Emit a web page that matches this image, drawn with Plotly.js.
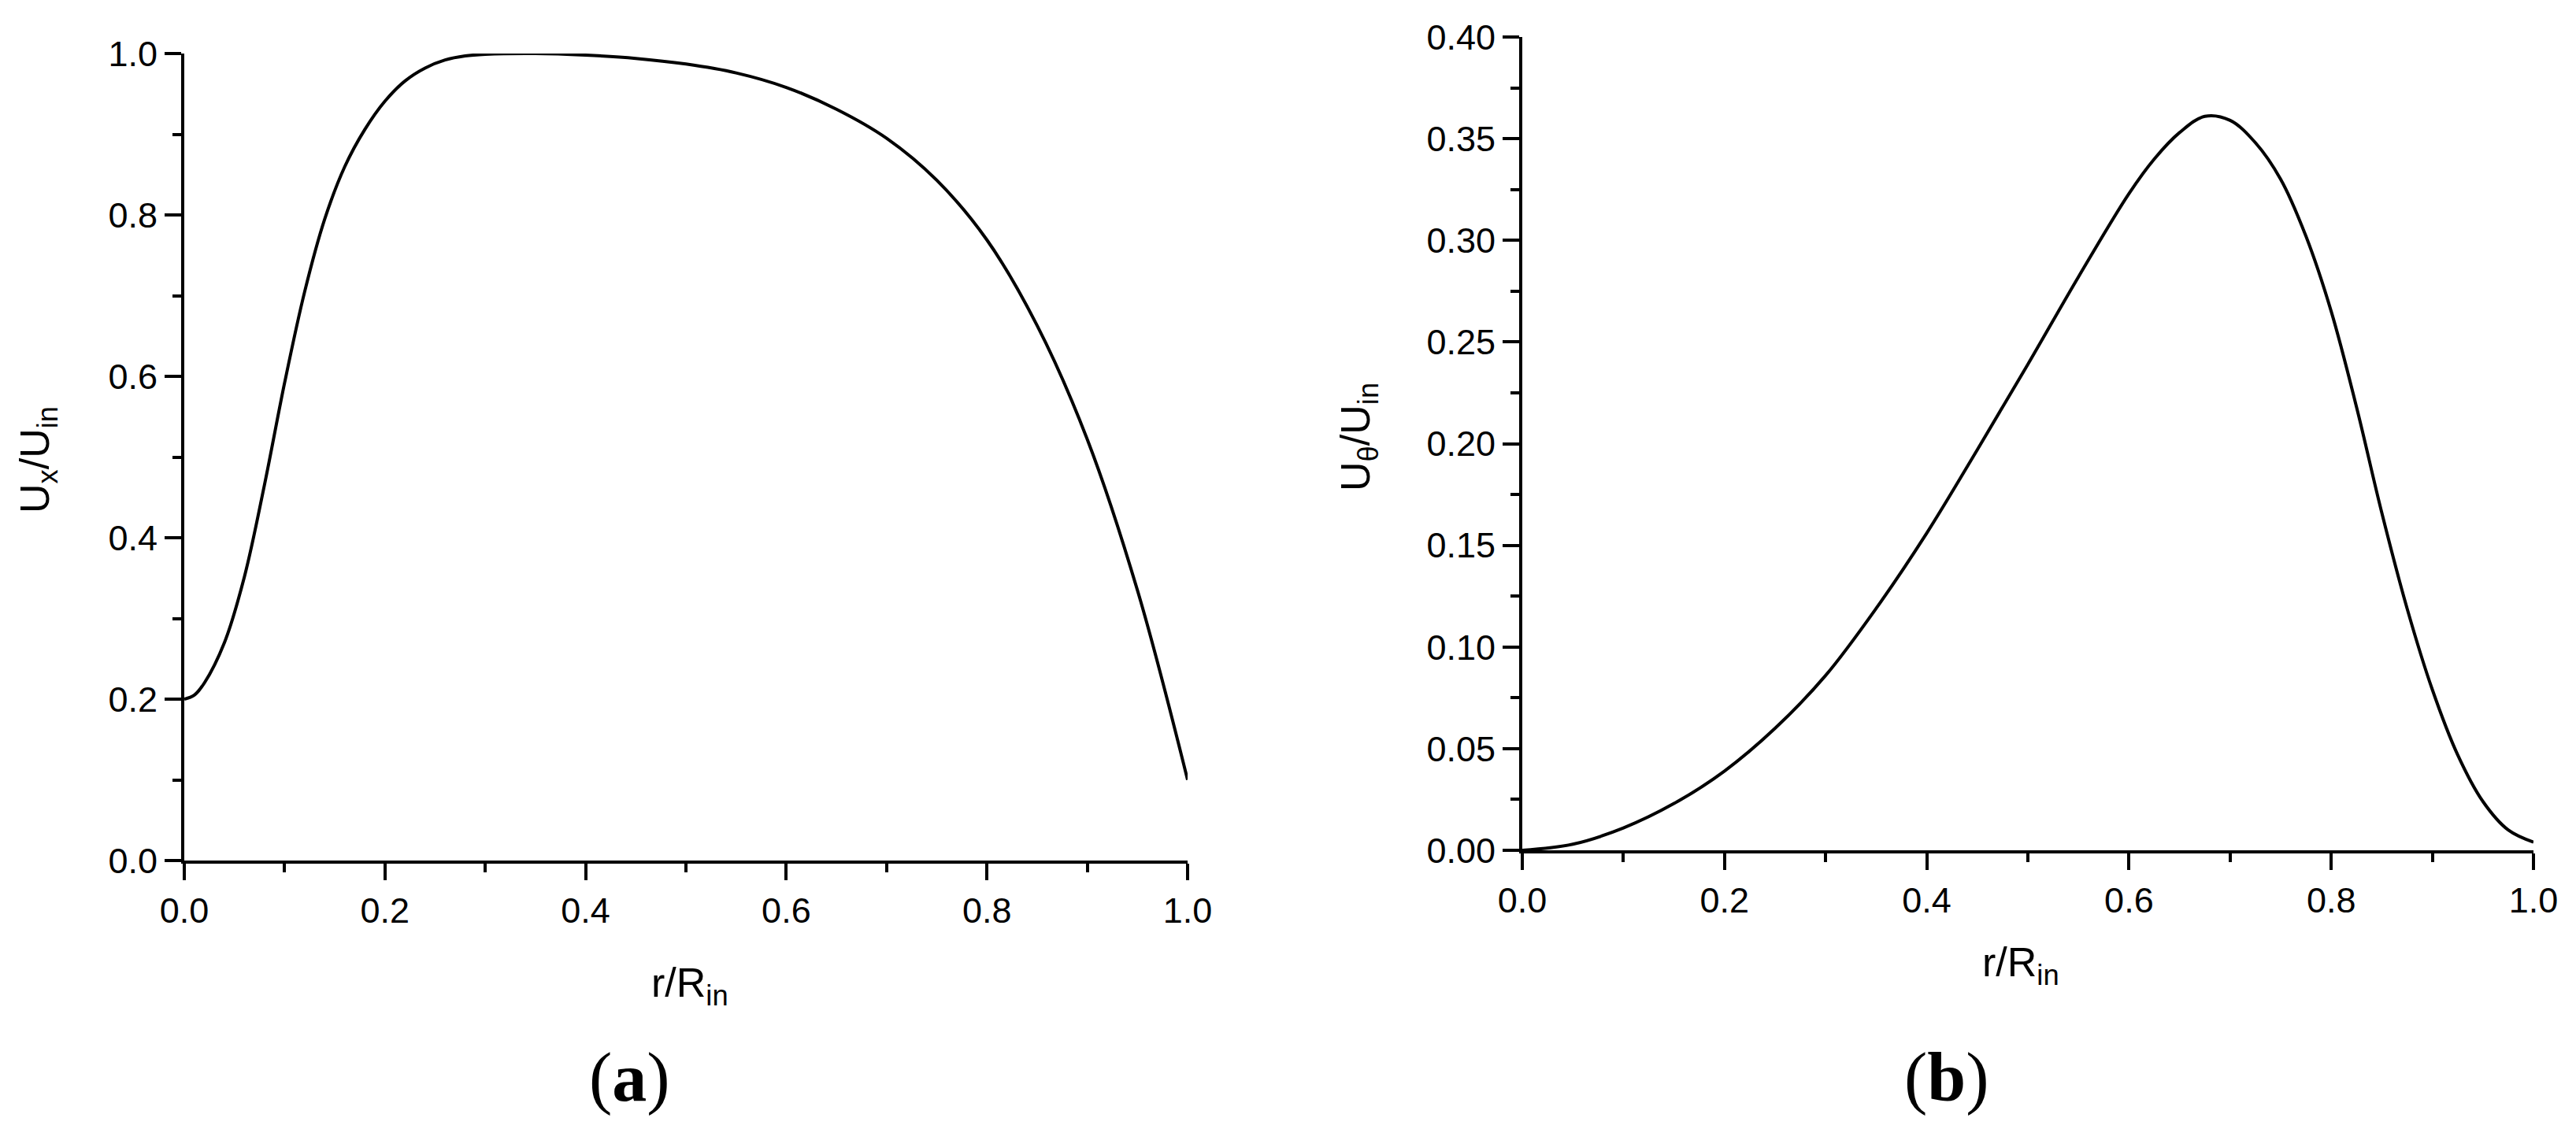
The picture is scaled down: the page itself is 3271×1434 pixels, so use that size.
<!DOCTYPE html>
<html>
<head>
<meta charset="utf-8">
<script src="https://cdn.plot.ly/plotly-3.0.1.min.js"></script>
<style>html,body{margin:0;padding:0;background:#fff;}#chart{width:3271px;height:1434px;}</style>
</head>
<body>
<div id="chart"></div>
<script>
// Panel (a): axial velocity profile
const rA = [0, 0.01, 0.02, 0.04, 0.06, 0.08, 0.10, 0.12, 0.14, 0.16, 0.18, 0.20, 0.22, 0.24, 0.26, 0.28, 0.30, 0.35, 0.40, 0.45, 0.50, 0.55, 0.60, 0.65, 0.70, 0.75, 0.80, 0.85, 0.90, 0.95, 1.00];
const uxA = [0.200, 0.205, 0.220, 0.270, 0.352, 0.466, 0.592, 0.705, 0.795, 0.860, 0.906, 0.941, 0.966, 0.982, 0.992, 0.997, 0.999, 1.000, 0.998, 0.994, 0.987, 0.976, 0.958, 0.931, 0.895, 0.843, 0.769, 0.663, 0.522, 0.335, 0.100];

// Panel (b): swirl velocity profile
const rB = [0, 0.05, 0.10, 0.15, 0.20, 0.25, 0.30, 0.35, 0.40, 0.45, 0.50, 0.55, 0.60, 0.625, 0.65, 0.675, 0.70, 0.725, 0.75, 0.775, 0.80, 0.825, 0.85, 0.875, 0.90, 0.925, 0.95, 0.975, 1.00];
const uthB = [0.000, 0.003, 0.011, 0.023, 0.039, 0.060, 0.086, 0.119, 0.156, 0.197, 0.239, 0.282, 0.323, 0.340, 0.353, 0.361, 0.359, 0.348, 0.330, 0.302, 0.265, 0.218, 0.166, 0.119, 0.079, 0.047, 0.024, 0.010, 0.004];

const xTicks = [0, 0.2, 0.4, 0.6, 0.8, 1.0];
const yTicksA = [0, 0.2, 0.4, 0.6, 0.8, 1.0];
const yTicksB = [0, 0.05, 0.10, 0.15, 0.20, 0.25, 0.30, 0.35, 0.40];

const tickFont = {family: 'Liberation Sans, Arial, sans-serif', size: 45, color: '#000'};
const titleFont = {family: 'Liberation Sans, Arial, sans-serif', size: 52, color: '#000'};
const panelFont = {family: 'Liberation Serif, Times New Roman, serif', size: 88, color: '#000'};

function axisBase(extra) {
  return Object.assign({
    showline: true, linecolor: '#000', linewidth: 4,
    showgrid: false, zeroline: false, mirror: false,
    ticks: 'outside', ticklen: 21, tickwidth: 4, tickcolor: '#000',
    tickfont: tickFont, fixedrange: true
  }, extra);
}

const minorX = {dtick: 0.1, tick0: 0, ticks: 'outside', ticklen: 11, tickwidth: 4, tickcolor: '#000'};

const traces = [
  {x: rA, y: uxA, type: 'scatter', mode: 'lines', xaxis: 'x', yaxis: 'y',
   line: {color: '#000', width: 4, shape: 'spline', smoothing: 1.0}, showlegend: false},
  {x: rB, y: uthB, type: 'scatter', mode: 'lines', xaxis: 'x2', yaxis: 'y2',
   line: {color: '#000', width: 4, shape: 'spline', smoothing: 1.0}, showlegend: false}
];

const layout = {
  width: 3271, height: 1434,
  margin: {l: 0, r: 0, t: 0, b: 0},
  paper_bgcolor: '#fff', plot_bgcolor: '#fff',
  showlegend: false,
  xaxis: axisBase({domain: [234/3271, 1508/3271], anchor: 'y', range: [0, 1],
    tickvals: xTicks, tickformat: '.1f', minor: minorX}),
  yaxis: axisBase({domain: [(1434-1093)/1434, (1434-68)/1434], anchor: 'x', range: [0, 1],
    tickvals: yTicksA, tickformat: '.1f', minor: minorX}),
  xaxis2: axisBase({domain: [1933/3271, 3217/3271], anchor: 'y2', range: [0, 1],
    tickvals: xTicks, tickformat: '.1f', minor: minorX}),
  yaxis2: axisBase({domain: [(1434-1080)/1434, (1434-47)/1434], anchor: 'x2', range: [0, 0.4],
    tickvals: yTicksB, tickformat: '.2f',
    minor: {dtick: 0.025, tick0: 0, ticks: 'outside', ticklen: 11, tickwidth: 4, tickcolor: '#000'}}),
  annotations: [
    {text: 'r/R<sub>in</sub>', xref: 'paper', yref: 'paper', x: 876/3271, y: 1 - 1252/1434,
     xanchor: 'center', yanchor: 'middle', showarrow: false, font: titleFont},
    {text: 'U<sub>x</sub>/U<sub>in</sub>', xref: 'paper', yref: 'paper', x: 48/3271, y: 1 - 584/1434,
     xanchor: 'center', yanchor: 'middle', textangle: -90, showarrow: false, font: titleFont},
    {text: 'r/R<sub>in</sub>', xref: 'paper', yref: 'paper', x: 2566/3271, y: 1 - 1226/1434,
     xanchor: 'center', yanchor: 'middle', showarrow: false, font: titleFont},
    {text: 'U<sub>θ</sub>/U<sub>in</sub>', xref: 'paper', yref: 'paper', x: 1725/3271, y: 1 - 555/1434,
     xanchor: 'center', yanchor: 'middle', textangle: -90, showarrow: false, font: titleFont},
    {text: '(<b>a</b>)', xref: 'paper', yref: 'paper', x: 799/3271, y: 1 - 1368/1434,
     xanchor: 'center', yanchor: 'middle', showarrow: false, font: panelFont},
    {text: '(<b>b</b>)', xref: 'paper', yref: 'paper', x: 2472/3271, y: 1 - 1368/1434,
     xanchor: 'center', yanchor: 'middle', showarrow: false, font: panelFont}
  ]
};

Plotly.newPlot('chart', traces, layout, {staticPlot: true, displayModeBar: false});
</script>
</body>
</html>
